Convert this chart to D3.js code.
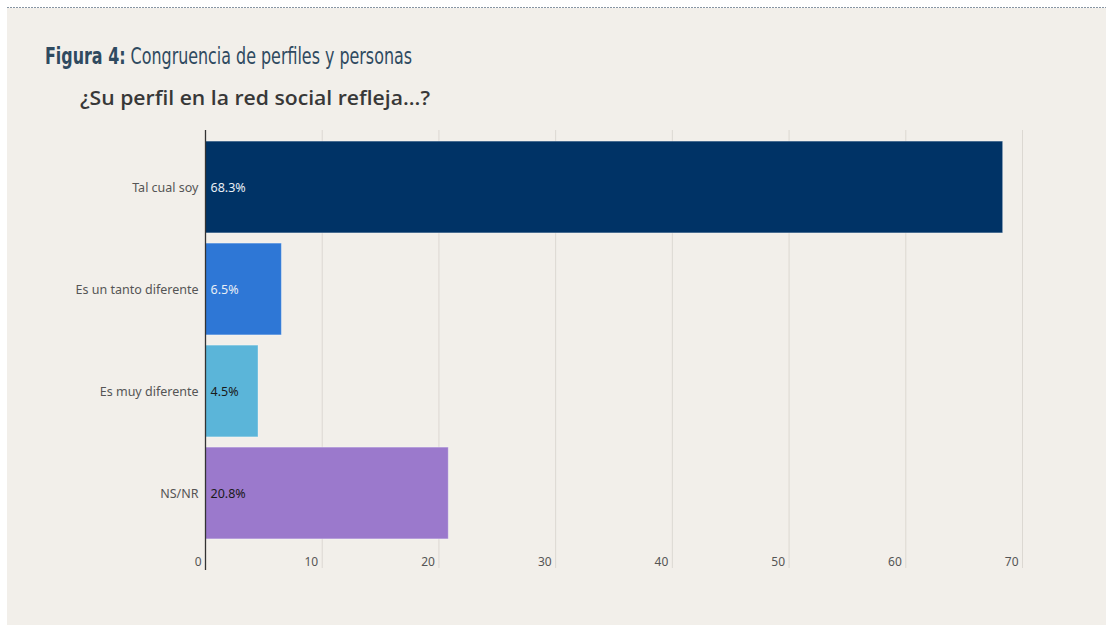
<!DOCTYPE html>
<html>
<head>
<meta charset="utf-8">
<script src="https://cdn.jsdelivr.net/npm/d3@7"></script>
<style>
	body { margin: 0; background: #fff; }
	svg { display: block; }
</style>
</head>
<body>
<div id="chart"></div>
<script>
var categories = ['Tal cual soy', 'Es un tanto diferente', 'Es muy diferente', 'NS/NR'];
var values = [68.3, 6.5, 4.5, 20.8];
var barColors = ['#003366', '#2e77d6', '#5bb5d9', '#9b79cc'];
var labelColors = ['#e8eef5', '#e8eef5', '#1a1a1a', '#1a1a1a'];
var xTicks = [0, 10, 20, 30, 40, 50, 60, 70];

var width = 1109, height = 626;
var plotLeft = 205.5, plotRight = 1022.5, plotTop = 130, plotBottom = 568;

var svg = d3.select('#chart').append('svg')
	.attr('width', width)
	.attr('height', height);

// panel
svg.append('rect')
	.attr('x', 7).attr('y', 8)
	.attr('width', 1099).attr('height', 617)
	.attr('fill', '#f2efea');
svg.append('line')
	.attr('x1', 7).attr('x2', 1106)
	.attr('y1', 7.5).attr('y2', 7.5)
	.attr('stroke', '#8795a3')
	.attr('stroke-width', 1.2)
	.attr('stroke-dasharray', '2,1');

// titles
var title = svg.append('text')
	.attr('x', 45).attr('y', 64)
	.attr('fill', '#2f4a60')
	.attr('textLength', 367)
	.attr('lengthAdjust', 'spacingAndGlyphs')
	.style('font-family', '"Liberation Sans Narrow", "DejaVu Sans Condensed", "Roboto", sans-serif')
	.style('font-size', '23px');
title.append('tspan').attr('font-weight', 'bold').text('Figura 4:');
title.append('tspan').text(' Congruencia de perfiles y personas');

svg.append('text')
	.attr('x', 80).attr('y', 105)
	.attr('fill', '#383838')
	.attr('textLength', 350)
	.attr('lengthAdjust', 'spacingAndGlyphs')
	.style('font-family', '"Open Sans", sans-serif')
	.style('font-weight', 600)
	.style('font-size', '19px')
	.text('¿Su perfil en la red social refleja...?');

var x = d3.scaleLinear().domain([0, 70]).range([plotLeft, plotRight]);
var y = d3.scaleBand().domain(categories).range([136, 544]).paddingInner(0.1).paddingOuter(0.05);

// grid
svg.append('g').selectAll('line')
	.data(xTicks.slice(1))
	.enter().append('line')
	.attr('x1', function(d) { return x(d); })
	.attr('x2', function(d) { return x(d); })
	.attr('y1', plotTop).attr('y2', plotBottom)
	.attr('stroke', '#dcd8d2')
	.attr('stroke-width', 1);

svg.append('g').selectAll('text')
	.data(xTicks)
	.enter().append('text')
	.attr('x', function(d) { return x(d) - 4; })
	.attr('y', 566)
	.attr('text-anchor', 'end')
	.attr('fill', '#555')
	.style('font-family', '"Noto Sans", sans-serif')
	.style('font-size', '12px')
	.text(function(d) { return d; });

// bars
var data = categories.map(function(c, i) { return {cat: c, val: values[i], i: i}; });

svg.append('g').selectAll('rect')
	.data(data)
	.enter().append('rect')
	.attr('x', x(0))
	.attr('y', function(d) { return y(d.cat); })
	.attr('width', function(d) { return x(d.val) - x(0); })
	.attr('height', y.bandwidth())
	.attr('fill', function(d) { return barColors[d.i]; })
	.attr('stroke', 'rgba(255,255,255,0.35)')
	.attr('stroke-width', 1);

svg.append('g').selectAll('text')
	.data(data)
	.enter().append('text')
	.attr('x', x(0) + 5)
	.attr('y', function(d) { return y(d.cat) + y.bandwidth() / 2 + 4.5; })
	.attr('fill', function(d) { return labelColors[d.i]; })
	.style('font-family', '"Noto Sans", sans-serif')
	.style('font-size', '12.5px')
	.text(function(d) { return d.val.toFixed(1) + '%'; });

svg.append('g').selectAll('text')
	.data(data)
	.enter().append('text')
	.attr('x', x(0) - 7)
	.attr('y', function(d) { return y(d.cat) + y.bandwidth() / 2 + 4.5; })
	.attr('text-anchor', 'end')
	.attr('fill', '#555')
	.style('font-family', '"Noto Sans", sans-serif')
	.style('font-size', '12.5px')
	.text(function(d) { return d.cat; });

// axis line
svg.append('line')
	.attr('x1', plotLeft).attr('x2', plotLeft)
	.attr('y1', plotTop).attr('y2', 570)
	.attr('stroke', '#333')
	.attr('stroke-width', 1.3);
</script>
</body>
</html>
